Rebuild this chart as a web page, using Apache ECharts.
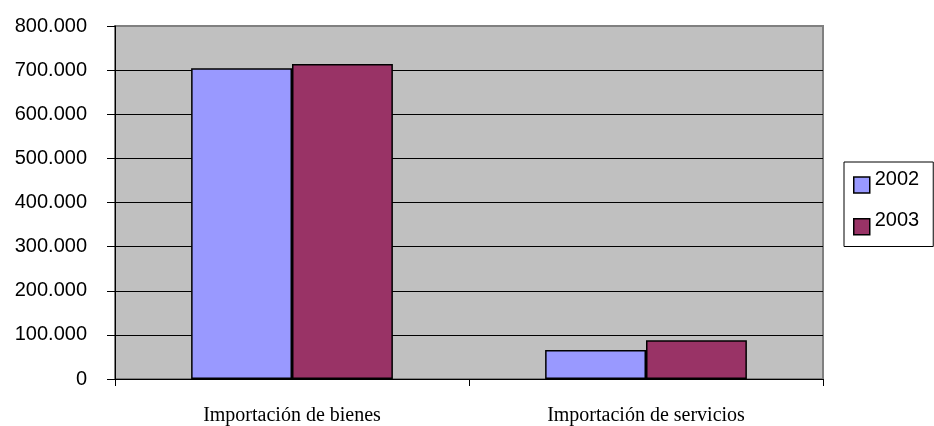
<!DOCTYPE html>
<html><head><meta charset="utf-8">
<script src="https://cdn.jsdelivr.net/npm/echarts@6/dist/echarts.min.js"></script>
<style>html,body{margin:0;padding:0;background:#fff}#c{width:934px;height:426px}</style>
</head><body><div id="c"></div>
<script>
var categories = ['Importación de bienes', 'Importación de servicios'];
var seriesNames = ['2002', '2003'];
var values2002 = [704500, 66000];
var values2003 = [714000, 88000];
var yMin = 0, yMax = 800000, yStep = 100000;

function fmt(v){ return v === 0 ? '0' : String(v).replace(/\B(?=(\d{3})+(?!\d))/g, '.'); }

var chart = echarts.init(document.getElementById('c'), null, {renderer:'canvas'});
var gridColors = [];
for (var i = 0; i <= (yMax - yMin) / yStep; i++) gridColors.push(i === (yMax - yMin) / yStep ? '#808080' : '#000000');
chart.setOption({
  animation: false,
  backgroundColor: '#ffffff',
  grid: {left: 115, right: 111, top: 26, bottom: 46, show: true, backgroundColor: '#c0c0c0', borderColor: '#808080', borderWidth: 2},
  legend: {
    orient: 'vertical', left: 844, top: 162,
    data: seriesNames, icon: 'rect', itemWidth: 16, itemHeight: 16, itemGap: 17,
    borderColor: '#000', borderWidth: 1, padding: [7, 14, 11, 9],
    itemStyle: {borderColor: '#000', borderWidth: 1.5},
    formatter: '{t|{name}}',
    textStyle: {fontFamily: 'Liberation Sans, Arial', fontSize: 20, color: '#000',
      rich: {t: {fontFamily: 'Liberation Sans, Arial', fontSize: 20, color: '#000', padding: [0,0,12,0]}}}
  },
  xAxis: {
    type: 'category', data: categories,
    axisLine: {lineStyle: {color: '#000', width: 1}},
    axisTick: {show: true, length: 7, lineStyle: {color: '#000'}},
    axisLabel: {fontFamily: 'Liberation Serif, Times New Roman', fontSize: 20, color: '#000', margin: 27}
  },
  yAxis: {
    type: 'value', min: yMin, max: yMax, interval: yStep,
    axisLine: {show: true, lineStyle: {color: '#000'}},
    axisTick: {show: true, length: 8, lineStyle: {color: '#000'}},
    splitLine: {show: true, lineStyle: {color: gridColors, width: 1}},
    axisLabel: {fontFamily: 'Liberation Sans, Arial', fontSize: 20, color: '#000', margin: 28, formatter: fmt}
  },
  series: [
    {name: seriesNames[0], type: 'bar', data: values2002, barGap: '0%', barCategoryGap: '43%',
     itemStyle: {color: '#9999ff', borderColor: '#000', borderWidth: 1.5}},
    {name: seriesNames[1], type: 'bar', data: values2003, barGap: '0%', barCategoryGap: '43%',
     itemStyle: {color: '#993366', borderColor: '#000', borderWidth: 1.5}}
  ]
});
</script></body></html>
